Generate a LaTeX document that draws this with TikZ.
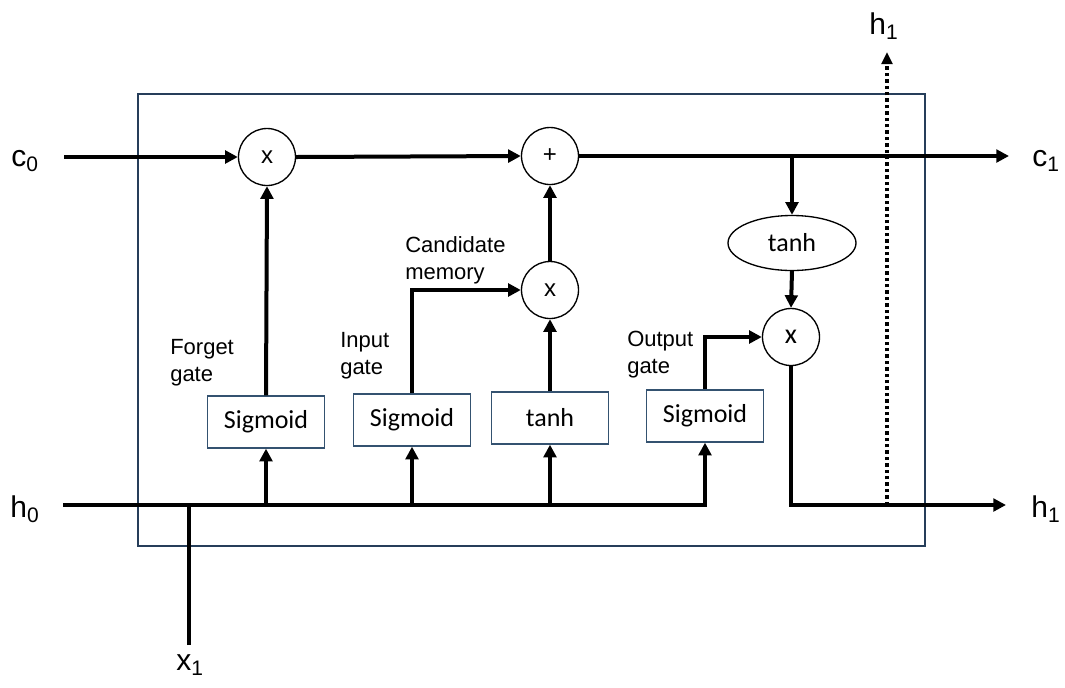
\documentclass[tikz,border=0pt]{standalone}
\usepackage{fontspec}
\setmainfont{Liberation Sans}
\newfontfamily\boxfont{Carlito}
\usetikzlibrary{arrows.meta,shapes.geometric}

\definecolor{frameblue}{RGB}{38,62,90}
\definecolor{boxedge}{RGB}{52,82,112}

\tikzset{
  wire/.style={line width=3pt, -{Triangle[length=9.5pt,width=9.5pt]}},
  plainwire/.style={line width=3pt},
  dotwire/.style={line width=3pt, dash pattern=on 2.6pt off 2.2pt,
                  -{Triangle[length=9pt,width=8pt]}},
  opnode/.style={circle, draw, line width=1pt, minimum size=42.75pt, inner sep=0pt,
                 font=\fontsize{18}{21}\selectfont},
  gatebox/.style={draw=boxedge, line width=1pt, minimum width=87.75pt, minimum height=39pt,
                  inner sep=0pt, font=\boxfont\fontsize{19.5}{23}\selectfont},
  actellipse/.style={ellipse, draw, line width=1pt, minimum width=96pt, minimum height=41.25pt,
                  inner sep=0pt, font=\boxfont\fontsize{19.5}{23}\selectfont},
  iolabel/.style={font=\fontsize{22.5}{26}\selectfont, inner sep=0pt},
  note/.style={font=\fontsize{16.5}{20.25}\selectfont, align=left, anchor=north west, inner sep=0pt}
}

\begin{document}
\begin{tikzpicture}[x=0.75pt,y=-0.75pt]
  \useasboundingbox (0,0) rectangle (1065,687);

  % cell frame
  \draw[frameblue, line width=1pt] (138,94) rectangle (925,546);

  % operations on the cell state
  \node[opnode] (fx)  at (267,157) {x};
  \node[opnode] (add) at (550,156) {+};
  \node[opnode] (cx)  at (550,290) {x};
  \node[opnode, font=\boxfont\fontsize{21}{24}\selectfont] (ox) at (791,337) {x};
  \node[actellipse] (tanhE) at (792,243) {tanh};

  % gate layers
  \node[gatebox] (fs) at (266,422) {Sigmoid};
  \node[gatebox] (is) at (412,420) {Sigmoid};
  \node[gatebox] (tb) at (550,418) {tanh};
  \node[gatebox] (os) at (705,416) {Sigmoid};

  % inputs and outputs
  \node[iolabel] (c0) at (25,161) {c\textsubscript{0}};
  \node[iolabel] (c1) at (1046,161) {c\textsubscript{1}};
  \node[iolabel] (h0) at (25,509) {h\textsubscript{0}};
  \node[iolabel] (h1) at (1046,509) {h\textsubscript{1}};
  \node[iolabel] (h1up) at (884,26) {h\textsubscript{1}};
  \node[iolabel] (x1) at (190,665) {x\textsubscript{1}};

  \coordinate (c0s) at (64,157);
  \coordinate (c1e) at (1009,156);
  \coordinate (br)  at (792,156);
  \coordinate (h0s) at (63,505);
  \coordinate (h1e) at (1006,505);
  \coordinate (hc)  at (791,505);
  \coordinate (dj)  at (887,505);
  \coordinate (dtop) at (887,52);
  \coordinate (x1s) at (189,645);

  % cell state path
  \draw[wire] (c0s) -- (fx.west);
  \draw[wire] (fx.east) -- (add.west);
  \draw[wire] (add.east) -- (c1e);
  \draw[wire] (br) -- (tanhE.north);
  \draw[wire] (tanhE.south) -- (ox.north);

  % gates
  \draw[wire] (fs.north) -- (fx.south);
  \draw[wire] (is.north) |- (cx.west);
  \draw[wire] (tb.north) -- (cx.south);
  \draw[wire] (cx.north) -- (add.south);
  \draw[wire] (os.north) |- (ox.west);

  % hidden state and input bus
  \draw[plainwire] (x1s) -- (x1s |- h0s);
  \draw[wire] (h0s) -| (os.south);
  \draw[wire] (fs.south |- h0s) -- (fs.south);
  \draw[wire] (is.south |- h0s) -- (is.south);
  \draw[wire] (tb.south |- h0s) -- (tb.south);

  % output
  \draw[wire] (ox.south) |- (h1e);
  \draw[dotwire] (hc) -- (dj) -- (dtop);

  % gate names
  \node[note] (nf) at (170,339) {Forget\\gate};
  \node[note] (ni) at (340,332) {Input\\gate};
  \node[note] (nc) at (405,236) {Candidate\\memory};
  \node[note] (no) at (627,331) {Output\\gate};
\end{tikzpicture}
\end{document}
